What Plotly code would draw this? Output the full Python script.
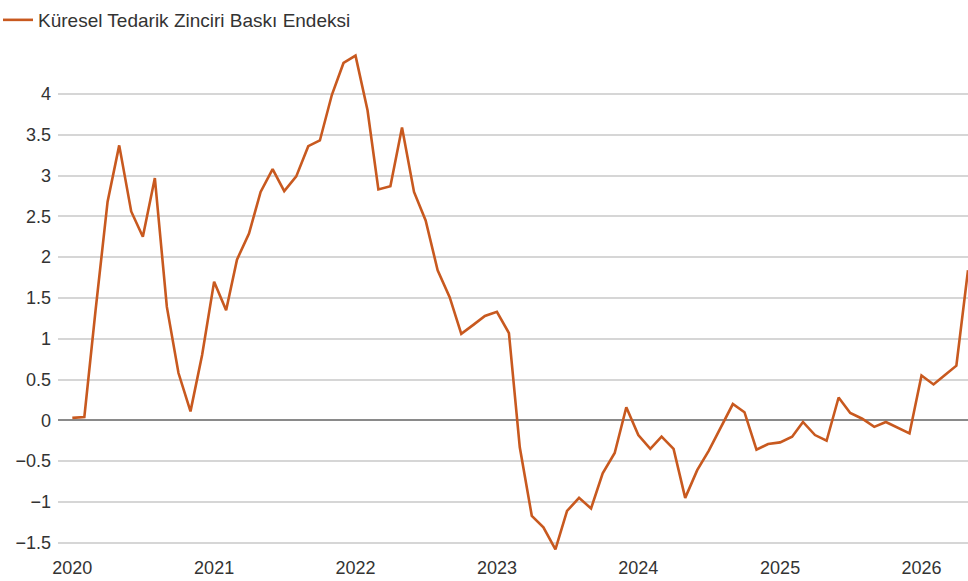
import plotly.graph_objects as go
import pandas as pd

series_name = "Küresel Tedarik Zinciri Baskı Endeksi"

# Monthly values, Jan 2020 onwards
gscpi_values = [
    0.03, 0.04, 1.35, 2.68, 3.37, 2.56, 2.25, 2.97, 1.39, 0.58, 0.11, 0.80,   # 2020
    1.70, 1.35, 1.97, 2.29, 2.80, 3.08, 2.81, 2.99, 3.36, 3.43, 3.99, 4.38,   # 2021
    4.47, 3.80, 2.83, 2.87, 3.59, 2.80, 2.45, 1.84, 1.51, 1.06, 1.17, 1.28,   # 2022
    1.33, 1.07, -0.33, -1.17, -1.31, -1.58, -1.11, -0.95, -1.08, -0.65, -0.40, 0.16,  # 2023
    -0.18, -0.35, -0.20, -0.35, -0.95, -0.61, -0.37, -0.08, 0.20, 0.10, -0.36, -0.29,  # 2024
    -0.27, -0.20, -0.02, -0.18, -0.25, 0.28, 0.09, 0.02, -0.08, -0.02, -0.09, -0.16,  # 2025
    0.55, 0.44, 0.55, 0.67, 1.84,                                              # 2026
]
months = pd.date_range("2020-01-01", periods=len(gscpi_values), freq="MS")

y_tick_vals = [-1.5, -1, -0.5, 0, 0.5, 1, 1.5, 2, 2.5, 3, 3.5, 4]
y_tick_text = ["−1.5", "−1", "−0.5", "0", "0.5", "1", "1.5", "2", "2.5", "3", "3.5", "4"]
x_tick_vals = ["2020-01-01", "2021-01-01", "2022-01-01", "2023-01-01",
               "2024-01-01", "2025-01-01", "2026-01-01"]
x_tick_text = ["2020", "2021", "2022", "2023", "2024", "2025", "2026"]

line_color = "#c8591f"
text_color = "#333333"
font_family = "Liberation Sans, Arial, sans-serif"

plot_w = 910
plot_h = 510

fig = go.Figure()
fig.add_trace(go.Scatter(
    x=months, y=gscpi_values, mode="lines", name=series_name,
    line=dict(color=line_color, width=2.6),
))

fig.update_layout(
    width=968, height=581,
    margin=dict(l=58, r=0, t=45, b=26, autoexpand=False),
    paper_bgcolor="white", plot_bgcolor="white",
    font=dict(family=font_family, size=18, color=text_color),
    showlegend=True,
    legend=dict(
        x=-60 / plot_w, y=1 + 25 / plot_h, xanchor="left", yanchor="middle",
        orientation="h",
        font=dict(size=19, color=text_color),
        bgcolor="rgba(0,0,0,0)", borderwidth=0,
    ),
    xaxis=dict(
        range=["2019-11-25", "2026-05-01"],
        tickvals=x_tick_vals, ticktext=x_tick_text,
        showgrid=False, zeroline=False, showline=False,
        ticks="", ticklabelstandoff=0, automargin=False,
        tickfont=dict(size=18, color=text_color),
    ),
    yaxis=dict(
        range=[-1.65, 4.6],
        tickvals=y_tick_vals, ticktext=y_tick_text,
        showgrid=True, gridcolor="#d6d6d6", gridwidth=1.5,
        zeroline=True, zerolinecolor="#8a8a8a", zerolinewidth=1.8,
        showline=False, ticks="", ticklabelstandoff=6, automargin=False,
        tickfont=dict(size=18, color=text_color),
    ),
)

fig.write_html(
    "out.html",
    config={"displayModeBar": False},
    post_script="document.body.style.margin='0';document.body.style.overflow='hidden';",
)
